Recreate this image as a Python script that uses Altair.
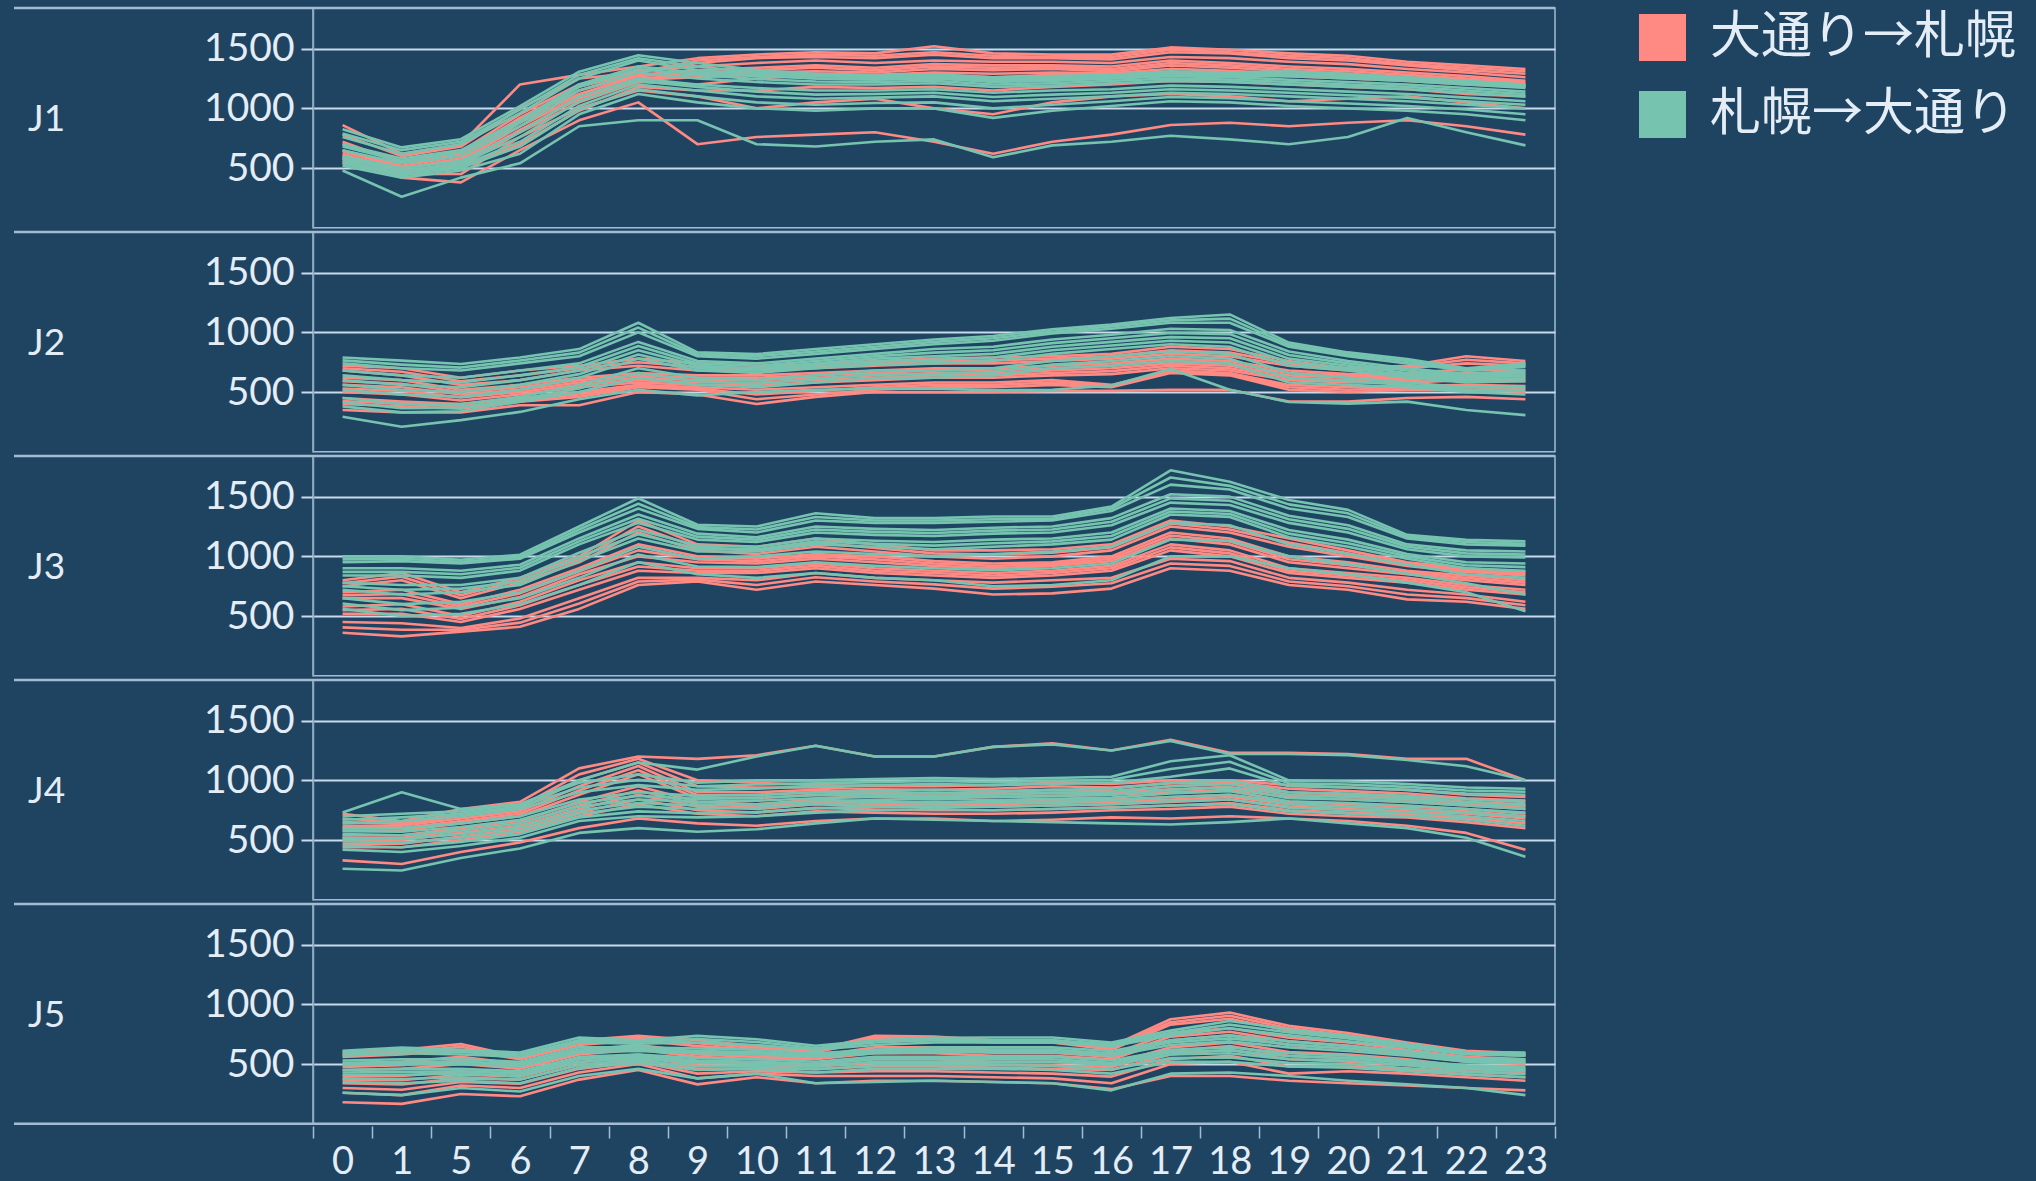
import altair as alt
import pandas as pd

# Hours of the day that have service data (2-4 am are absent)
HOURS = [0, 1, 5, 6, 7, 8, 9, 10, 11, 12, 13, 14, 15, 16, 17, 18, 19, 20, 21, 22, 23]
STATIONS = ["J1", "J2", "J3", "J4", "J5"]
DIRECTIONS = ["大通り→札幌", "札幌→大通り"]

# Hourly counts, one list per day, per station and direction
j1_odori_sapporo = [
    [860, 620, 700, 1200, 1280, 1350, 1420, 1450, 1470, 1460, 1520, 1460, 1450, 1450, 1510, 1490, 1460, 1440, 1390, 1360, 1330],
    [780, 600, 680, 1000, 1250, 1300, 1380, 1420, 1430, 1420, 1450, 1420, 1420, 1410, 1470, 1460, 1420, 1400, 1360, 1320, 1290],
    [720, 540, 620, 920, 1180, 1300, 1400, 1430, 1450, 1440, 1470, 1440, 1430, 1430, 1490, 1470, 1440, 1420, 1370, 1340, 1310],
    [700, 560, 640, 950, 1200, 1320, 1350, 1380, 1400, 1380, 1400, 1390, 1390, 1380, 1430, 1420, 1390, 1370, 1330, 1300, 1260],
    [650, 520, 600, 900, 1150, 1280, 1320, 1340, 1360, 1340, 1370, 1360, 1360, 1350, 1400, 1380, 1350, 1330, 1300, 1270, 1230],
    [640, 500, 580, 880, 1120, 1270, 1300, 1320, 1340, 1320, 1350, 1340, 1345, 1330, 1380, 1360, 1330, 1310, 1280, 1250, 1215],
    [600, 500, 560, 850, 1100, 1250, 1280, 1300, 1310, 1300, 1330, 1320, 1330, 1310, 1360, 1340, 1310, 1290, 1260, 1240, 1200],
    [590, 470, 540, 820, 1080, 1240, 1260, 1280, 1290, 1280, 1300, 1290, 1300, 1295, 1330, 1315, 1290, 1270, 1245, 1220, 1190],
    [620, 480, 520, 800, 1050, 1220, 1200, 1250, 1280, 1260, 1280, 1260, 1280, 1280, 1300, 1290, 1270, 1250, 1230, 1200, 1180],
    [540, 440, 500, 700, 980, 1180, 1150, 1150, 1180, 1170, 1180, 1150, 1180, 1200, 1230, 1220, 1200, 1180, 1160, 1120, 1100],
    [560, 450, 450, 760, 1000, 1150, 1100, 1000, 1050, 1080, 1000, 950, 1050, 1100, 1120, 1100, 1060, 1080, 1100, 1050, 1000],
    [580, 420, 380, 650, 900, 1050, 700, 760, 780, 800, 720, 620, 720, 780, 860, 880, 850, 880, 900, 850, 780],
]
j1_sapporo_odori = [
    [825, 673, 742, 1018, 1307, 1445, 1380, 1320, 1290, 1275, 1285, 1260, 1270, 1280, 1310, 1300, 1310, 1290, 1260, 1230, 1200],
    [790, 650, 720, 990, 1280, 1420, 1350, 1300, 1270, 1260, 1270, 1245, 1255, 1265, 1290, 1280, 1290, 1270, 1245, 1215, 1185],
    [760, 620, 700, 960, 1250, 1400, 1320, 1280, 1250, 1245, 1255, 1230, 1240, 1250, 1275, 1265, 1270, 1250, 1230, 1200, 1170],
    [700, 580, 650, 900, 1200, 1350, 1300, 1270, 1250, 1240, 1250, 1220, 1230, 1250, 1270, 1260, 1240, 1220, 1200, 1170, 1140],
    [680, 560, 630, 880, 1180, 1330, 1280, 1245, 1225, 1220, 1230, 1200, 1210, 1230, 1250, 1240, 1220, 1200, 1180, 1150, 1120],
    [650, 540, 600, 850, 1150, 1300, 1250, 1220, 1200, 1200, 1210, 1180, 1190, 1210, 1230, 1220, 1200, 1180, 1160, 1130, 1100],
    [600, 500, 560, 800, 1100, 1250, 1200, 1170, 1150, 1150, 1160, 1130, 1150, 1160, 1190, 1180, 1160, 1140, 1120, 1090, 1060],
    [580, 480, 540, 760, 1060, 1230, 1180, 1140, 1115, 1120, 1130, 1095, 1115, 1130, 1160, 1150, 1130, 1110, 1090, 1060, 1030],
    [560, 460, 520, 720, 1020, 1200, 1150, 1100, 1080, 1090, 1100, 1060, 1080, 1100, 1130, 1120, 1100, 1080, 1060, 1030, 1000],
    [540, 440, 500, 680, 990, 1160, 1100, 1050, 1030, 1045, 1050, 1000, 1030, 1060, 1095, 1085, 1060, 1040, 1020, 990, 950],
    [520, 420, 480, 620, 950, 1120, 1050, 1000, 980, 1000, 1000, 920, 980, 1020, 1060, 1050, 1020, 1000, 980, 950, 900],
    [480, 260, 420, 540, 850, 900, 900, 700, 680, 720, 740, 590, 690, 720, 770, 740, 700, 760, 920, 800, 690],
]

j2_odori_sapporo = [
    [720, 700, 620, 680, 720, 780, 740, 720, 730, 760, 780, 790, 800, 820, 880, 860, 760, 700, 720, 800, 760],
    [700, 670, 590, 640, 700, 750, 710, 700, 715, 740, 760, 765, 780, 800, 850, 830, 740, 690, 710, 770, 740],
    [680, 640, 560, 600, 680, 720, 680, 680, 700, 720, 740, 740, 760, 780, 820, 800, 720, 680, 700, 740, 720],
    [620, 600, 520, 560, 620, 660, 640, 640, 660, 680, 700, 700, 720, 740, 780, 760, 680, 650, 660, 690, 680],
    [590, 570, 500, 540, 600, 640, 620, 620, 640, 660, 680, 680, 700, 720, 760, 740, 660, 635, 640, 665, 655],
    [560, 540, 480, 520, 580, 620, 600, 600, 620, 640, 660, 660, 680, 700, 740, 720, 640, 620, 620, 640, 630],
    [530, 510, 455, 500, 560, 600, 580, 580, 600, 620, 640, 640, 660, 675, 720, 700, 620, 600, 600, 620, 610],
    [500, 480, 430, 480, 540, 580, 560, 560, 580, 600, 620, 620, 640, 650, 700, 680, 600, 580, 580, 600, 590],
    [450, 420, 400, 450, 500, 560, 540, 520, 540, 560, 580, 580, 600, 560, 680, 660, 560, 540, 550, 560, 550],
    [425, 400, 380, 435, 480, 550, 530, 480, 510, 540, 560, 560, 580, 550, 670, 650, 540, 520, 535, 540, 525],
    [400, 380, 360, 420, 460, 540, 520, 440, 480, 520, 540, 540, 560, 540, 660, 640, 520, 500, 520, 520, 500],
    [350, 330, 330, 390, 390, 500, 480, 400, 460, 500, 500, 500, 510, 510, 520, 520, 420, 420, 450, 460, 440],
]
j2_sapporo_odori = [
    [790, 763, 735, 790, 860, 1080, 832, 818, 860, 900, 940, 970, 1025, 1066, 1120, 1150, 914, 832, 776, 700, 740],
    [765, 730, 705, 765, 830, 1040, 815, 800, 840, 880, 920, 950, 1005, 1050, 1100, 1115, 895, 815, 760, 690, 725],
    [740, 700, 680, 740, 800, 1000, 800, 780, 820, 860, 900, 930, 990, 1030, 1080, 1080, 880, 800, 740, 680, 710],
    [680, 640, 620, 680, 740, 920, 760, 740, 780, 820, 860, 880, 940, 980, 1030, 1020, 840, 760, 700, 650, 680],
    [640, 600, 580, 640, 710, 885, 740, 720, 760, 800, 830, 850, 910, 950, 995, 985, 810, 740, 680, 635, 660],
    [600, 560, 540, 600, 680, 850, 720, 700, 740, 780, 800, 820, 880, 920, 960, 950, 780, 720, 660, 620, 640],
    [560, 520, 500, 560, 650, 815, 700, 680, 720, 755, 770, 790, 850, 890, 930, 915, 750, 700, 640, 600, 615],
    [520, 480, 460, 520, 620, 780, 680, 660, 700, 730, 740, 760, 820, 860, 900, 880, 720, 680, 620, 580, 590],
    [450, 400, 400, 460, 560, 700, 620, 600, 640, 680, 680, 700, 760, 800, 840, 820, 660, 620, 580, 540, 540],
    [415, 365, 370, 440, 530, 660, 590, 570, 610, 650, 650, 670, 730, 760, 800, 780, 620, 590, 560, 520, 510],
    [380, 330, 340, 420, 500, 620, 560, 540, 580, 620, 620, 640, 700, 720, 760, 740, 580, 560, 540, 500, 480],
    [293, 210, 265, 334, 440, 520, 472, 500, 520, 528, 530, 514, 520, 555, 693, 520, 417, 403, 420, 350, 307],
]

j3_odori_sapporo = [
    [800, 860, 700, 820, 1000, 1300, 1100, 1080, 1150, 1100, 1050, 1050, 1060, 1100, 1300, 1250, 1150, 1050, 950, 900, 870],
    [775, 830, 675, 800, 975, 1250, 1075, 1050, 1115, 1070, 1025, 1015, 1030, 1075, 1275, 1225, 1115, 1025, 935, 885, 855],
    [750, 800, 650, 780, 950, 1200, 1050, 1020, 1080, 1040, 1000, 980, 1000, 1050, 1250, 1200, 1080, 1000, 920, 870, 840],
    [700, 720, 600, 720, 900, 1100, 1000, 980, 1020, 1000, 960, 940, 950, 1000, 1200, 1150, 1000, 950, 880, 840, 800],
    [675, 685, 580, 690, 875, 1050, 975, 960, 1000, 975, 940, 920, 935, 980, 1175, 1125, 975, 925, 865, 820, 780],
    [650, 650, 560, 660, 850, 1000, 950, 940, 980, 950, 920, 900, 920, 960, 1150, 1100, 950, 900, 850, 800, 760],
    [580, 600, 500, 620, 800, 950, 900, 900, 940, 900, 880, 860, 880, 920, 1100, 1050, 900, 860, 820, 760, 720],
    [550, 560, 475, 590, 760, 915, 880, 880, 920, 880, 860, 840, 860, 900, 1075, 1025, 880, 840, 800, 740, 700],
    [520, 520, 450, 560, 720, 880, 860, 860, 900, 860, 840, 820, 840, 880, 1050, 1000, 860, 820, 780, 720, 680],
    [450, 440, 400, 480, 650, 820, 820, 800, 860, 820, 800, 780, 800, 820, 980, 960, 820, 780, 720, 680, 620],
    [405, 385, 385, 445, 605, 790, 805, 760, 825, 790, 765, 730, 745, 775, 940, 920, 790, 750, 680, 650, 590],
    [360, 330, 370, 410, 560, 760, 790, 720, 790, 760, 730, 680, 690, 730, 900, 880, 760, 720, 640, 620, 560],
]
j3_sapporo_odori = [
    [1000, 1000, 972, 1014, 1250, 1486, 1264, 1250, 1361, 1320, 1320, 1333, 1333, 1417, 1720, 1625, 1472, 1389, 1180, 1139, 1125],
    [975, 980, 955, 995, 1225, 1440, 1245, 1225, 1330, 1300, 1300, 1310, 1315, 1400, 1660, 1590, 1435, 1360, 1165, 1120, 1105],
    [950, 960, 940, 980, 1200, 1400, 1230, 1200, 1300, 1280, 1280, 1290, 1300, 1380, 1600, 1560, 1400, 1330, 1150, 1100, 1090],
    [900, 900, 880, 930, 1150, 1350, 1190, 1160, 1250, 1230, 1220, 1240, 1250, 1320, 1520, 1500, 1340, 1260, 1100, 1050, 1040],
    [870, 870, 850, 905, 1125, 1315, 1165, 1140, 1225, 1205, 1195, 1215, 1225, 1290, 1485, 1465, 1310, 1230, 1080, 1025, 1015],
    [840, 840, 820, 880, 1100, 1280, 1140, 1120, 1200, 1180, 1170, 1190, 1200, 1260, 1450, 1430, 1280, 1200, 1060, 1000, 990],
    [780, 760, 760, 820, 1030, 1220, 1090, 1080, 1150, 1130, 1120, 1140, 1150, 1200, 1400, 1380, 1220, 1140, 1020, 950, 940],
    [750, 720, 730, 790, 995, 1185, 1065, 1060, 1125, 1105, 1090, 1110, 1125, 1170, 1375, 1355, 1190, 1110, 1000, 925, 910],
    [720, 680, 700, 760, 960, 1150, 1040, 1040, 1100, 1080, 1060, 1080, 1100, 1140, 1350, 1330, 1160, 1080, 980, 900, 880],
    [650, 600, 620, 700, 880, 1080, 980, 1000, 1040, 1020, 1000, 1020, 1040, 1080, 1280, 1260, 1100, 1020, 930, 850, 820],
    [605, 550, 570, 650, 820, 1015, 915, 910, 950, 920, 900, 885, 900, 940, 1140, 1130, 1000, 935, 855, 775, 680],
    [560, 500, 520, 600, 760, 950, 850, 820, 860, 820, 800, 750, 760, 800, 1000, 1000, 900, 850, 780, 700, 540],
]

j4_odori_sapporo = [
    [720, 660, 760, 820, 1100, 1200, 1180, 1210, 1290, 1200, 1200, 1280, 1310, 1250, 1340, 1230, 1230, 1220, 1180, 1180, 1000],
    [680, 650, 720, 780, 1050, 1180, 1000, 980, 960, 950, 950, 960, 980, 970, 1000, 1000, 960, 940, 920, 880, 860],
    [650, 635, 700, 760, 1000, 1150, 950, 940, 940, 925, 920, 930, 950, 940, 975, 985, 930, 910, 890, 850, 830],
    [620, 620, 680, 740, 950, 1120, 900, 900, 920, 900, 890, 900, 920, 910, 950, 970, 900, 880, 860, 820, 800],
    [600, 600, 660, 720, 915, 1085, 875, 875, 900, 880, 870, 880, 895, 895, 925, 945, 880, 860, 840, 805, 780],
    [580, 580, 640, 700, 880, 1050, 850, 850, 880, 860, 850, 860, 870, 880, 900, 920, 860, 840, 820, 790, 760],
    [540, 540, 600, 660, 820, 950, 820, 800, 840, 820, 810, 820, 830, 840, 860, 880, 820, 800, 780, 760, 720],
    [520, 520, 580, 640, 790, 915, 800, 780, 820, 800, 795, 800, 810, 820, 840, 860, 800, 780, 760, 740, 700],
    [500, 500, 560, 620, 760, 880, 780, 760, 800, 780, 780, 780, 790, 800, 820, 840, 780, 760, 740, 720, 680],
    [470, 470, 530, 595, 730, 840, 750, 730, 770, 755, 750, 750, 760, 775, 790, 810, 750, 730, 715, 685, 640],
    [440, 440, 500, 570, 700, 800, 720, 700, 740, 730, 720, 720, 730, 750, 760, 780, 720, 700, 690, 650, 600],
    [330, 300, 400, 480, 600, 680, 640, 620, 660, 680, 680, 660, 670, 690, 680, 700, 680, 660, 620, 560, 420],
]
j4_sapporo_odori = [
    [730, 900, 760, 800, 1000, 1150, 1090, 1200, 1290, 1200, 1200, 1280, 1300, 1250, 1330, 1220, 1220, 1210, 1170, 1118, 1000],
    [700, 720, 740, 800, 980, 1050, 980, 1000, 1000, 1010, 1020, 1010, 1020, 1030, 1160, 1210, 1000, 990, 970, 940, 930],
    [670, 690, 720, 780, 940, 1005, 950, 965, 975, 985, 995, 985, 995, 1005, 1095, 1155, 975, 965, 945, 915, 905],
    [640, 660, 700, 760, 900, 960, 920, 930, 950, 960, 970, 960, 970, 980, 1030, 1100, 950, 940, 920, 890, 880],
    [600, 600, 640, 700, 840, 900, 870, 880, 900, 910, 920, 910, 920, 930, 980, 1000, 900, 890, 870, 840, 820],
    [575, 570, 610, 670, 810, 870, 845, 855, 875, 885, 895, 885, 895, 905, 950, 970, 875, 865, 845, 815, 790],
    [550, 540, 580, 640, 780, 840, 820, 830, 850, 860, 870, 860, 870, 880, 920, 940, 850, 840, 820, 790, 760],
    [520, 510, 550, 610, 750, 810, 790, 800, 825, 835, 845, 835, 845, 855, 890, 910, 825, 810, 790, 760, 730],
    [490, 480, 520, 580, 720, 780, 760, 770, 800, 810, 820, 810, 820, 830, 860, 880, 800, 780, 760, 730, 700],
    [455, 440, 485, 550, 690, 740, 725, 735, 765, 780, 790, 780, 790, 800, 825, 840, 770, 750, 730, 700, 660],
    [420, 400, 450, 520, 660, 700, 690, 700, 730, 750, 760, 750, 760, 770, 790, 800, 740, 720, 700, 670, 620],
    [260, 245, 350, 430, 560, 600, 570, 590, 640, 680, 670, 660, 650, 640, 630, 650, 680, 640, 600, 520, 360],
]

j5_odori_sapporo = [
    [600, 620, 667, 560, 700, 736, 700, 650, 620, 736, 730, 700, 700, 650, 875, 931, 820, 760, 681, 611, 590],
    [580, 600, 645, 550, 680, 720, 675, 635, 610, 720, 715, 690, 690, 635, 850, 905, 800, 740, 665, 600, 580],
    [560, 580, 620, 540, 660, 700, 650, 620, 600, 700, 700, 680, 680, 620, 830, 880, 780, 720, 650, 590, 570],
    [500, 520, 560, 500, 620, 660, 600, 580, 570, 640, 640, 620, 620, 580, 760, 800, 720, 680, 620, 560, 540],
    [475, 490, 530, 480, 600, 640, 580, 560, 555, 615, 615, 595, 595, 560, 730, 770, 690, 655, 600, 540, 520],
    [450, 460, 500, 460, 580, 620, 560, 540, 540, 590, 590, 570, 570, 540, 700, 740, 660, 630, 580, 520, 500],
    [400, 400, 440, 420, 540, 580, 520, 500, 500, 540, 540, 520, 520, 500, 640, 680, 600, 580, 540, 480, 460],
    [370, 365, 410, 395, 515, 560, 490, 480, 480, 510, 510, 495, 490, 475, 610, 650, 570, 550, 515, 460, 440],
    [340, 330, 380, 370, 490, 540, 460, 460, 460, 480, 480, 470, 460, 450, 580, 620, 540, 520, 490, 440, 420],
    [300, 285, 350, 335, 460, 520, 420, 440, 430, 440, 440, 430, 420, 395, 540, 570, 480, 480, 455, 415, 390],
    [260, 240, 320, 300, 430, 500, 380, 420, 400, 400, 400, 390, 380, 340, 500, 520, 420, 440, 420, 390, 360],
    [180, 167, 250, 230, 370, 450, 330, 390, 340, 360, 360, 350, 340, 290, 400, 400, 360, 340, 320, 300, 280],
]
j5_sapporo_odori = [
    [611, 639, 620, 597, 722, 700, 736, 708, 653, 700, 720, 722, 722, 681, 780, 860, 790, 736, 670, 600, 597],
    [590, 615, 600, 580, 700, 685, 710, 685, 635, 680, 700, 700, 700, 665, 760, 830, 765, 715, 655, 590, 585],
    [570, 590, 580, 560, 680, 670, 680, 660, 620, 660, 680, 680, 680, 650, 740, 800, 740, 690, 640, 580, 570],
    [530, 540, 540, 520, 640, 640, 630, 620, 590, 620, 640, 640, 640, 610, 700, 740, 690, 650, 610, 550, 540],
    [510, 520, 520, 500, 620, 625, 610, 600, 575, 605, 620, 620, 620, 590, 680, 715, 665, 630, 590, 535, 525],
    [490, 500, 500, 480, 600, 610, 590, 580, 560, 590, 600, 600, 600, 570, 660, 690, 640, 610, 570, 520, 510],
    [450, 460, 460, 440, 560, 580, 550, 540, 520, 560, 560, 560, 560, 530, 620, 640, 590, 570, 530, 490, 480],
    [430, 435, 440, 420, 540, 565, 530, 520, 500, 540, 540, 540, 540, 510, 600, 615, 565, 550, 510, 475, 460],
    [410, 410, 420, 400, 520, 550, 510, 500, 480, 520, 520, 520, 520, 490, 580, 590, 540, 530, 490, 460, 440],
    [380, 375, 390, 370, 495, 530, 480, 480, 455, 490, 490, 490, 485, 455, 550, 555, 510, 500, 465, 435, 415],
    [350, 340, 360, 340, 470, 510, 450, 460, 430, 460, 460, 460, 450, 420, 520, 520, 480, 470, 440, 410, 390],
    [260, 240, 300, 270, 400, 460, 380, 420, 340, 350, 360, 350, 340, 280, 420, 430, 400, 360, 330, 300, 240],
]

SERIES = {
    "J1": (j1_odori_sapporo, j1_sapporo_odori),
    "J2": (j2_odori_sapporo, j2_sapporo_odori),
    "J3": (j3_odori_sapporo, j3_sapporo_odori),
    "J4": (j4_odori_sapporo, j4_sapporo_odori),
    "J5": (j5_odori_sapporo, j5_sapporo_odori),
}

# Long table: pink direction rows first so the teal direction is drawn on top
rows = []
for station in STATIONS:
    for direction, days in zip(DIRECTIONS, SERIES[station]):
        for k, day in enumerate(days):
            for hour, value in zip(HOURS, day):
                rows.append({
                    "station": station,
                    "direction": direction,
                    "day": f"{station}-{direction}-{k}",
                    "hour": str(hour),
                    "value": value,
                })
df = pd.DataFrame(rows)

BG = "#1f4462"
GRID = "#c9dbea"
SEP = "#a4bcd2"
AXIS_LINE = "#8ea8bf"
TEXT = "#e4edf5"
FONT = "Lato"
CJK = "Noto Sans CJK JP"
PINK = "#ff8a84"
TEAL = "#76c3b0"

W = 1242
H = 219.8
LABEL_COL = 299  # width of the row-label column left of each plot

color_scale = alt.Scale(domain=DIRECTIONS, range=[PINK, TEAL])

x_enc = alt.X(
    "hour:O",
    sort=[str(h) for h in HOURS],
    bandPosition=0.5,
    scale=alt.Scale(type="band", paddingInner=0, paddingOuter=0),
    axis=alt.Axis(
        title=None, labelAngle=0, tickBand="extent", grid=False, domain=False,
        tickSize=12, tickColor=SEP, tickWidth=1.5,
        labelFontSize=38, labelFont=FONT, labelColor=TEXT, labelPadding=5,
    ),
)
y_enc = alt.Y(
    "value:Q",
    scale=alt.Scale(domain=[0, 1840], nice=False, zero=False),
    axis=alt.Axis(
        title=None, values=[500, 1000, 1500], format="d", grid=True,
        gridColor=GRID, gridWidth=2, tickSize=12, tickColor=GRID, tickWidth=2,
        domainColor=AXIS_LINE, domainWidth=1.5,
        labelFontSize=39, labelFont=FONT, labelColor=TEXT, labelPadding=7,
    ),
)

base = alt.Chart(df)

lines = base.mark_line(strokeWidth=2.6, strokeJoin="round").encode(
    x=x_enc,
    y=y_enc,
    color=alt.Color("direction:N", scale=color_scale, legend=None),
    detail="day:N",
)

# Zero-size filled squares that only carry the colour legend
legend_keys = (
    base.transform_aggregate(value="min(value)", groupby=["station", "direction", "hour"])
    .mark_square(size=0, filled=True, opacity=1)
    .encode(
        x=x_enc,
        y=y_enc,
        color=alt.Color(
            "direction:N",
            scale=color_scale,
            legend=alt.Legend(
                title=None, orient="right", offset=76, padding=4,
                symbolType="square", symbolSize=2209, symbolStrokeWidth=0, symbolOpacity=1,
                labelFontSize=51, labelFont=CJK, labelColor=TEXT,
                labelOffset=22, rowPadding=25, labelLimit=0,
            ),
        ),
    )
)

# Row dividers spanning the label column and the plot, plus the row name
per_row = base.transform_aggregate(n="count()", groupby=["station"])
top_rule = per_row.mark_rule(color=SEP, strokeWidth=2.5).encode(
    x=alt.value(-LABEL_COL), x2=alt.value(W), y=alt.value(0)
)
bottom_rule = (
    per_row.transform_filter(alt.datum.station == STATIONS[-1])
    .mark_rule(color=SEP, strokeWidth=2.5)
    .encode(x=alt.value(-LABEL_COL), x2=alt.value(W), y=alt.value(H))
)
row_name = per_row.mark_text(
    align="left", baseline="middle", font=FONT, fontSize=37, color=TEXT
).encode(text="station:N", x=alt.value(-285), y=alt.value(H / 2 + 2))

panel = alt.layer(legend_keys, lines, top_rule, bottom_rule, row_name).properties(width=W, height=H)

chart = (
    panel.facet(
        row=alt.Row("station:N", sort=STATIONS, header=alt.Header(title=None, labels=False)),
        spacing=0,
    )
    .resolve_axis(y="independent")
    .properties(background=BG, padding={"left": 12, "top": 6, "right": 15, "bottom": 0})
    .configure_view(stroke=SEP, strokeWidth=1.5)
)

chart.save("out.html", embed_options={"renderer": "svg", "actions": False})
